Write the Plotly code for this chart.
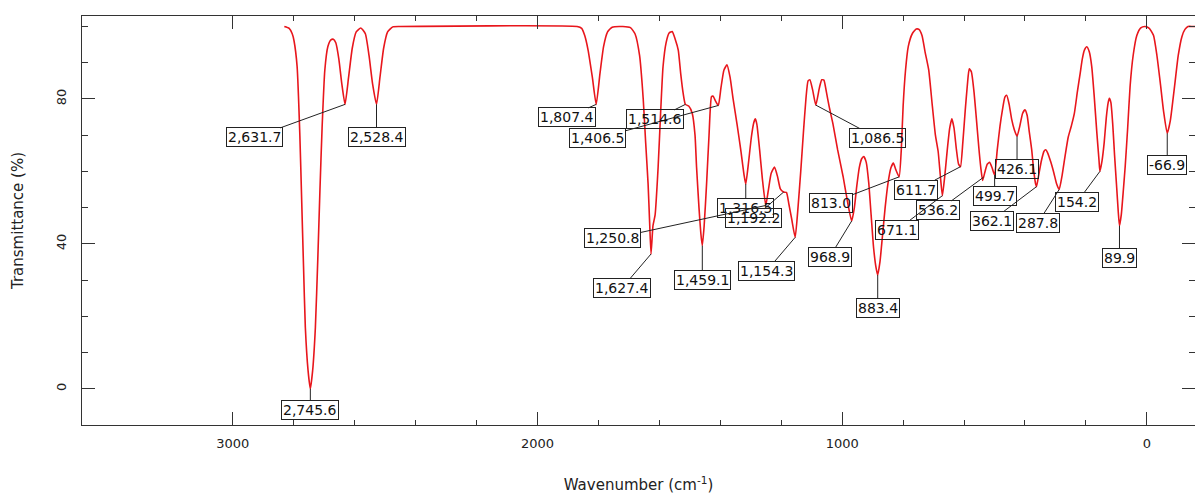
import numpy as np
import plotly.graph_objects as go

# ---- data ----
wavenumber = [
    2831, 2815, 2805, 2799, 2789, 2780, 2774, 2768, 2762, 2753, 2745.6, 2738, 2729, 2721, 2714, 2707,
    2698, 2688, 2678, 2670, 2662, 2652, 2642, 2631.7, 2620, 2608, 2595, 2580, 2565, 2553, 2541, 2528.4,
    2517, 2505, 2492, 2475, 2450,
    1870, 1855, 1845, 1834, 1820, 1807.4, 1795, 1783, 1770, 1755, 1720, 1695, 1680, 1665, 1653, 1645,
    1637, 1632, 1627.4, 1621, 1614, 1604, 1596, 1588, 1578, 1568, 1558, 1548, 1538, 1530, 1522, 1514.6,
    1503, 1492, 1483, 1478, 1470, 1464, 1459.1, 1453, 1445, 1437, 1429, 1424, 1416, 1406.5, 1398, 1388,
    1378, 1368, 1358, 1345, 1333, 1322, 1316.5, 1308, 1298, 1290, 1285, 1280, 1271, 1262, 1250.8, 1242,
    1233, 1222, 1212, 1203, 1192.2, 1183, 1175, 1166, 1154.3, 1145, 1136, 1127, 1119, 1112, 1106, 1097,
    1086.5, 1075, 1067, 1060, 1052, 1043, 1030, 1015, 997, 980, 968.9, 960, 952, 944, 936, 929, 921, 913,
    905, 897, 889, 883.4, 876, 868, 859, 850, 840, 832, 824, 813, 806, 800, 792, 783, 770, 757, 748, 738,
    728, 716, 704, 694, 685, 678, 671.1, 663, 655, 647, 640, 633, 625, 618, 611.7, 604, 596, 589, 583,
    576, 568, 560, 552, 545, 539, 531, 524, 516, 508, 499.7, 491, 482, 474, 466, 460, 452, 444, 435,
    426.1, 417, 408, 400, 393, 386, 378, 371, 365, 362.1, 355, 346, 338, 332, 325, 315, 305, 296, 287.8,
    278, 268, 258, 248, 238, 228, 219, 212, 205, 197, 189, 181, 173, 164, 157, 154.2, 147, 140, 133, 127,
    123, 118, 112, 106, 99, 94, 89.9, 84, 77, 71, 63, 55, 45, 33, 20, 6, -8, -22, -33, -44, -55, -66.9,
    -77, -86, -93, -103, -115, -125, -135, -150, -165,
]
transmittance = [
    100, 99.5, 98, 96, 89, 70, 52, 34, 17, 5, 0, 5, 17, 36, 55, 72,
    88, 94.5, 96.3, 96.5, 95.5, 91, 84, 78.5, 86, 94, 98.5, 99.6, 98, 92, 84, 78.5,
    86, 94, 98.5, 99.9, 100,
    100, 99.5, 97.5, 93.5, 86, 78.5, 87, 94.5, 98.5, 99.8, 100, 99.7, 98, 92, 80, 68,
    56.5, 46, 37.2, 45, 48, 61.3, 76, 88.9, 95.5, 98.2, 98.6, 96.5, 93.5, 87, 81.6, 78.5,
    78, 76, 70, 61.3, 50, 43, 39.5, 45, 56.7, 70, 80.6, 80.8, 79.5, 78.2, 83, 88,
    89.4, 86, 80, 73, 66, 59, 56.5, 62, 69.5, 73.5, 74.5, 73, 66, 58, 50.6, 55,
    59.5, 61.2, 58.5, 55.2, 54.3, 54.2, 51, 47, 41.8, 50, 60, 71, 80, 85, 85.3, 82.5,
    78.3, 83, 85.3, 85.2, 82, 78, 73, 66, 58.6, 50.5, 46.3, 50, 56, 61, 63.5, 64.1, 62.5, 57,
    48, 39, 33.5, 31.4, 35, 42, 50, 56.5, 61, 62.3, 60.5, 58.5, 66, 78, 88, 94.5, 98, 99.3, 99.2, 97.5,
    93, 88, 78, 70, 65.5, 59, 53.3, 59, 66, 72, 74.5, 72, 66, 62, 61.3, 68, 77, 84, 88.3,
    87.5, 82.5, 75, 67, 61, 57.5, 60, 62, 62.5, 61, 59, 66, 72.5, 77, 80.5, 81, 78.5, 74.5, 71.5,
    69.7, 72.5, 76, 77, 75.5, 71, 66, 60, 56.5, 55.8, 59, 63, 65.5, 66, 65, 62.5, 59.5, 56.5, 55,
    59, 64.5, 69.5, 72.5, 76, 82, 87, 91, 93.5, 94.4, 93, 89, 81, 70.5, 63, 60, 63, 68, 75, 79,
    80.2, 79, 73, 64.5, 55.5, 49, 45, 48, 55, 61.5, 72, 83.5, 92, 97.5, 99.6, 100, 99.5, 97.5, 92, 84.5, 76.5, 70.5,
    74, 80, 85, 92, 97.2, 99.2, 100, 100, 100,
]

peak_labels = ["2,631.7", "2,528.4", "2,745.6", "1,807.4", "1,406.5", "1,514.6", "1,627.4",
               "1,459.1", "1,316.5", "1,250.8", "1,192.2", "1,154.3", "1,086.5", "968.9",
               "813.0", "883.4", "611.7", "671.1", "536.2", "499.7", "426.1", "362.1",
               "287.8", "154.2", "89.9", "-66.9"]
# label box offsets (pixels) from the peak point
label_offsets = [(-91, 33), (0, 33), (0, 21), (-29, 13), (-121, 33), (-30, 15), (-29, 34),
                 (0, 34), (0, 24), (-153, 33), (-30, 26), (-29, 34), (62, 33), (-22, 36),
                 (-68, 26), (0, 33), (-44, 23), (-45, 34), (-45, 33), (0, 21), (0, 33), (-45, 34),
                 (-21, 33), (-23, 31), (0, 32), (0, 32)]

x_ticks = [3000, 2000, 1000, 0]
x_minor = [2800, 2600, 2400, 2200, 1800, 1600, 1400, 1200, 800, 600, 400, 200]
y_ticks = [0, 40, 80]
y_minor = [10, 20, 30, 50, 60, 70, 90, 100]

FONT = "DejaVu Sans"
AX = "#333333"
TXT = "#222222"

fig = go.Figure()
fig.add_trace(go.Scatter(
    x=wavenumber, y=transmittance, mode="lines",
    line=dict(color="#e8161c", width=1.6, shape="spline", smoothing=0.5),
    hoverinfo="skip", showlegend=False,
))

wn_arr = np.array(wavenumber)[::-1]
t_arr = np.array(transmittance)[::-1]
for lab, (ax, ay) in zip(peak_labels, label_offsets):
    xv = float(lab.replace(",", ""))
    yv = float(np.interp(xv, wn_arr, t_arr))
    fig.add_annotation(
        x=xv, y=yv, text=lab, showarrow=True, arrowhead=0, arrowwidth=1,
        arrowcolor="#222222", ax=ax, ay=ay, standoff=0, startstandoff=0,
        font=dict(family=FONT, size=14, color="#111111"),
        bordercolor="#222222", borderwidth=1, borderpad=1,
        bgcolor="rgba(255,255,255,0)",
    )

fig.update_layout(
    width=1195, height=494,
    margin=dict(l=82, r=0, t=16, b=69),
    plot_bgcolor="white", paper_bgcolor="white",
    font=dict(family=FONT, color=TXT),
    showlegend=False,
    xaxis=dict(
        range=[3495, -158], tickmode="array", tickvals=x_ticks,
        ticktext=[str(v) for v in x_ticks],
        ticks="inside", ticklen=13, tickwidth=1, tickcolor=AX,
        showline=True, linecolor=AX, linewidth=1, mirror="ticks",
        showgrid=False, zeroline=False,
        minor=dict(tickvals=x_minor, ticks="inside", ticklen=5, tickcolor=AX, showgrid=False),
        tickfont=dict(family=FONT, size=13, color=TXT),
        ticklabelstandoff=6,
        title=dict(text="Wavenumber (cm<sup>-1</sup>)", font=dict(family=FONT, size=15, color=TXT), standoff=30),
    ),
    yaxis=dict(
        range=[-10, 102.9], tickmode="array", tickvals=y_ticks,
        ticktext=[str(v) for v in y_ticks], tickangle=-90,
        ticks="inside", ticklen=13, tickwidth=1, tickcolor=AX,
        showline=True, linecolor=AX, linewidth=1, mirror="ticks",
        showgrid=False, zeroline=False,
        minor=dict(tickvals=y_minor, ticks="inside", ticklen=6, tickcolor=AX, showgrid=False),
        tickfont=dict(family=FONT, size=13, color=TXT),
        ticklabelstandoff=10,
        title=dict(text="Transmittance (%)", font=dict(family=FONT, size=15, color=TXT), standoff=26),
    ),
)

fig.write_html("out.html")
